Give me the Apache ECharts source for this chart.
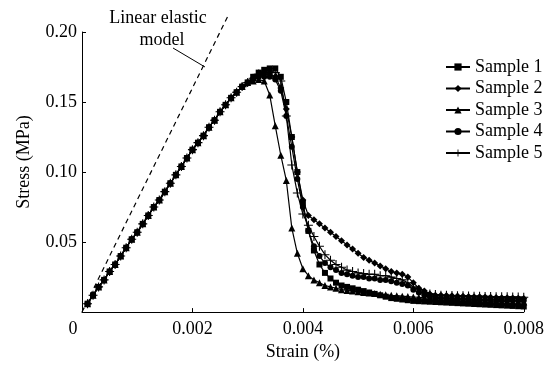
<!DOCTYPE html>
<html>
<head>
<meta charset="utf-8">
<script src="https://cdn.jsdelivr.net/npm/echarts@6/dist/echarts.min.js"></script>
<style>
  html, body { margin: 0; padding: 0; background: #fff; }
  #main { width: 547px; height: 366px; }
</style>
</head>
<body>
<div id="main"></div>
<script>
// strain (%) sampled along the curves
var strain = [
    0.0001, 0.0002, 0.0003, 0.0004, 0.0005, 0.0006, 0.0007, 0.0008, 0.0009, 0.0010,
    0.0011, 0.0012, 0.0013, 0.0014, 0.0015, 0.0016, 0.0017, 0.0018, 0.0019, 0.0020,
    0.0021, 0.0022, 0.0023, 0.0024, 0.0025, 0.0026, 0.0027, 0.0028, 0.0029, 0.0030,
    0.0031, 0.0032, 0.0033, 0.0034, 0.0035, 0.0036, 0.0037, 0.0038, 0.0039, 0.0040,
    0.0041, 0.0042, 0.0043, 0.0044, 0.0045, 0.0046, 0.0047, 0.0048, 0.0049, 0.0050,
    0.0051, 0.0052, 0.0053, 0.0054, 0.0055, 0.0056, 0.0057, 0.0058, 0.0059, 0.0060,
    0.0061, 0.0062, 0.0063, 0.0064, 0.0065, 0.0066, 0.0067, 0.0068, 0.0069, 0.0070,
    0.0071, 0.0072, 0.0073, 0.0074, 0.0075, 0.0076, 0.0077, 0.0078, 0.0079, 0.0080
];

// common rising part, strain 0.0001 - 0.0030
var riseStress = [
    0.006, 0.012, 0.018, 0.023, 0.029, 0.034, 0.040, 0.046, 0.052, 0.057,
    0.063, 0.069, 0.075, 0.080, 0.086, 0.092, 0.098, 0.104, 0.110, 0.116,
    0.121, 0.126, 0.132, 0.137, 0.143, 0.148, 0.153, 0.157, 0.161, 0.164
];

// strain 0.0031 - 0.0080
var sample1 = [
    0.168, 0.171, 0.173, 0.174, 0.174, 0.168, 0.150, 0.125, 0.100, 0.078,
    0.058, 0.044, 0.034, 0.028, 0.024, 0.021, 0.019, 0.018, 0.017, 0.016,
    0.015, 0.014, 0.013, 0.012, 0.011, 0.010, 0.0095, 0.009, 0.0085, 0.008,
    0.0078, 0.0076, 0.0074, 0.0072, 0.007, 0.0068, 0.0066, 0.0064, 0.0062, 0.006,
    0.0058, 0.0056, 0.0054, 0.0052, 0.005, 0.0048, 0.0046, 0.0044, 0.0042, 0.004
];
var sample2 = [
    0.167, 0.169, 0.170, 0.170, 0.168, 0.160, 0.145, 0.125, 0.100, 0.080,
    0.069, 0.066, 0.063, 0.060, 0.057, 0.054, 0.051, 0.048, 0.045, 0.042,
    0.039, 0.037, 0.035, 0.033, 0.031, 0.029, 0.028, 0.027, 0.025, 0.021,
    0.017, 0.015, 0.013, 0.012, 0.012, 0.0118, 0.0116, 0.0115, 0.0113, 0.0112,
    0.011, 0.0109, 0.0107, 0.0106, 0.0104, 0.0103, 0.0102, 0.010, 0.0099, 0.0098
];
var sample3 = [
    0.165, 0.166, 0.165, 0.155, 0.133, 0.112, 0.094, 0.060, 0.042, 0.031,
    0.026, 0.023, 0.021, 0.019, 0.018, 0.017, 0.016, 0.0155, 0.015, 0.0145,
    0.014, 0.0136, 0.0132, 0.0128, 0.0124, 0.012, 0.0117, 0.0114, 0.0111, 0.0108,
    0.0105, 0.0102, 0.010, 0.0098, 0.0096, 0.0094, 0.0092, 0.009, 0.0088, 0.0086,
    0.0084, 0.0082, 0.008, 0.0078, 0.0077, 0.0076, 0.0075, 0.0074, 0.0073, 0.0072
];
var sample4 = [
    0.166, 0.168, 0.168, 0.168, 0.166, 0.158, 0.140, 0.118, 0.095, 0.075,
    0.058, 0.047, 0.040, 0.035, 0.032, 0.030, 0.028, 0.027, 0.026, 0.025,
    0.025, 0.024, 0.024, 0.023, 0.023, 0.022, 0.021, 0.020, 0.019, 0.016,
    0.014, 0.012, 0.0112, 0.0106, 0.0102, 0.010, 0.0098, 0.0096, 0.0094, 0.0092,
    0.0091, 0.009, 0.0089, 0.0088, 0.0087, 0.0086, 0.0085, 0.0084, 0.0083, 0.0082
];
var sample5 = [
    0.167, 0.170, 0.171, 0.172, 0.171, 0.165, 0.140, 0.105, 0.085, 0.070,
    0.062, 0.054, 0.047, 0.041, 0.037, 0.034, 0.032, 0.030, 0.029, 0.028,
    0.0275, 0.027, 0.027, 0.026, 0.026, 0.025, 0.024, 0.023, 0.021, 0.018,
    0.016, 0.014, 0.013, 0.0125, 0.012, 0.012, 0.0118, 0.0117, 0.0116, 0.0115,
    0.0114, 0.0113, 0.0112, 0.0111, 0.011, 0.011, 0.0109, 0.0108, 0.0107, 0.0106
];

var sampleNames = ['Sample 1', 'Sample 2', 'Sample 3', 'Sample 4', 'Sample 5'];
var linearModel = [[0, 0], [0.00265, 0.212]];

var font = 'Liberation Serif';
var plusPath = 'path://M4.4,0h1.2v4.4h4.4v1.2h-4.4v4.4h-1.2v-4.4h-4.4v-1.2h4.4z';
var symbols = ['rect', 'diamond', 'triangle', 'circle', plusPath];
var sizes = [6, 7, 7, 6, 9];
var tails = [sample1, sample2, sample3, sample4, sample5];

function buildData(tail) {
    var stress = riseStress.concat(tail);
    var data = [];
    for (var i = 0; i < strain.length; i++) {
        data.push([strain[i], stress[i]]);
    }
    return data;
}

var series = [];
for (var k = 0; k < 5; k++) {
    series.push({
        name: sampleNames[k],
        type: 'line',
        data: buildData(tails[k]),
        symbol: symbols[k],
        symbolSize: sizes[k],
        showAllSymbol: true,
        lineStyle: { color: '#000', width: 1.2 },
        itemStyle: { color: '#000', borderWidth: 0 },
        z: 3
    });
}
// dashed linear elastic model line
series.push({
    name: 'Linear elastic model',
    type: 'line',
    data: linearModel,
    symbol: 'none',
    clip: false,
    lineStyle: { color: '#000', width: 1.2, type: [5, 4] },
    z: 2
});

var myChart = echarts.init(document.getElementById('main'));
myChart.setOption({
    animation: false,
    backgroundColor: '#fff',
    textStyle: { fontFamily: font, color: '#000' },
    grid: { left: 82, right: 17, top: 32, bottom: 50 },
    legend: {
        data: sampleNames,
        orient: 'vertical',
        left: 440,
        top: 53,
        itemGap: 3.5,
        itemWidth: 24,
        itemHeight: 9,
        textStyle: { fontFamily: font, fontSize: 18, color: '#000' }
    },
    xAxis: {
        type: 'value',
        min: 0,
        max: 0.008,
        interval: 0.002,
        name: 'Strain (%)',
        nameLocation: 'middle',
        nameGap: 28,
        nameTextStyle: { fontFamily: font, fontSize: 18, color: '#000' },
        axisLine: { lineStyle: { color: '#000', width: 1 } },
        axisTick: { inside: true, length: 4, lineStyle: { color: '#000' } },
        splitLine: { show: false },
        axisLabel: {
            fontFamily: font, fontSize: 18, color: '#000', margin: 8,
            formatter: function(v) {
                return v === 0 ? '{z|0}' : v.toFixed(3);
            },
            rich: { z: { fontFamily: font, fontSize: 18, color: '#000', padding: [0, 18, 8, 0] } }
        }
    },
    yAxis: {
        type: 'value',
        min: 0,
        max: 0.2,
        interval: 0.05,
        name: 'Stress (MPa)',
        nameLocation: 'middle',
        nameGap: 49,
        nameTextStyle: { fontFamily: font, fontSize: 18, color: '#000', padding: [0, 0, 0, 20] },
        axisLine: { show: true, lineStyle: { color: '#000', width: 1 } },
        axisTick: { show: true, inside: true, length: 4, lineStyle: { color: '#000' } },
        splitLine: { show: false },
        axisLabel: {
            fontFamily: font, fontSize: 18, color: '#000', margin: 5,
            formatter: function(v) {
                return v === 0 ? '' : v.toFixed(2);
            }
        }
    },
    graphic: [
        { type: 'text', style: { x: 158, y: 18, text: 'Linear elastic', textAlign: 'center', textVerticalAlign: 'middle', font: '18px "Liberation Serif"', fill: '#000' } },
        { type: 'text', style: { x: 162, y: 40, text: 'model', textAlign: 'center', textVerticalAlign: 'middle', font: '18px "Liberation Serif"', fill: '#000' } },
        { type: 'line', shape: { x1: 173, y1: 48, x2: 205, y2: 67 }, style: { stroke: '#000', lineWidth: 1 } }
    ],
    series: series
});
</script>
</body>
</html>
